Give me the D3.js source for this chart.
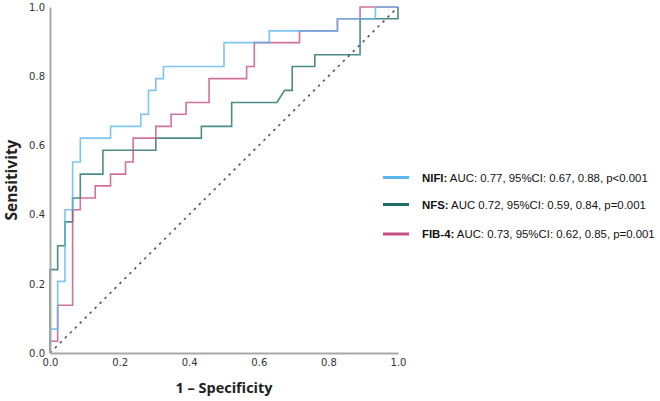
<!DOCTYPE html>
<html>
<head>
<meta charset="utf-8">
<script src="https://cdn.jsdelivr.net/npm/d3@7"></script>
<style>
  html, body { margin: 0; padding: 0; background: #fff; }
  svg { display: block; }
</style>
</head>
<body>
<svg id="chart" width="660" height="401"></svg>
<script>
// ---- Data ----
const seriesNames = ["NIFI", "NFS", "FIB-4"];
const legendRest = [
  " AUC: 0.77, 95%CI: 0.67, 0.88, p<0.001",
  " AUC 0.72, 95%CI: 0.59, 0.84, p=0.001",
  " AUC: 0.73, 95%CI: 0.62, 0.85, p=0.001"
];
const seriesColors = ["#5cb6ee", "#1f6f69", "#c54f82"];

// ROC vertices: [1 - specificity, sensitivity]
const nifiROC = [
  [0,0],[0,0.069],[0.022,0.069],[0.022,0.207],[0.043,0.207],[0.043,0.414],
  [0.065,0.414],[0.065,0.552],[0.087,0.552],[0.087,0.621],[0.174,0.621],
  [0.174,0.655],[0.261,0.655],[0.261,0.690],[0.283,0.690],[0.283,0.759],
  [0.304,0.759],[0.304,0.793],[0.326,0.793],[0.326,0.828],[0.5,0.828],
  [0.5,0.897],[0.630,0.897],[0.630,0.931],[0.826,0.931],[0.826,0.966],
  [0.935,0.966],[0.935,1],[1,1]
];
const nfsROC = [
  [0,0],[0,0.241],[0.022,0.241],[0.022,0.310],[0.043,0.310],[0.043,0.379],
  [0.065,0.379],[0.065,0.448],[0.087,0.448],[0.087,0.517],[0.152,0.517],
  [0.152,0.586],[0.304,0.586],[0.304,0.621],[0.435,0.621],[0.435,0.655],
  [0.522,0.655],[0.522,0.724],[0.652,0.724],[0.674,0.759],[0.696,0.759],
  [0.696,0.828],[0.761,0.828],[0.761,0.862],[0.891,0.862],[0.891,0.966],
  [1,0.966],[1,1]
];
const fib4ROC = [
  [0,0],[0,0.034],[0.022,0.034],[0.022,0.138],[0.065,0.138],[0.065,0.414],
  [0.087,0.414],[0.087,0.448],[0.130,0.448],[0.130,0.483],[0.174,0.483],
  [0.174,0.517],[0.217,0.517],[0.217,0.552],[0.239,0.552],[0.239,0.621],
  [0.304,0.621],[0.304,0.655],[0.348,0.655],[0.348,0.690],[0.391,0.690],
  [0.391,0.724],[0.457,0.724],[0.457,0.793],[0.565,0.793],[0.565,0.828],
  [0.587,0.828],[0.587,0.897],[0.717,0.897],[0.717,0.931],[0.826,0.931],
  [0.826,0.966],[0.891,0.966],[0.891,1],[1,1]
];
const referenceLine = [[0,0],[1,1]];
const tickValues = [0, 0.2, 0.4, 0.6, 0.8, 1.0];
const xTitle = "1 \u2013 Specificity";
const yTitle = "Sensitivity";

// ---- Drawing ----
const svg = d3.select("#chart");
const x = d3.scaleLinear().domain([0, 1]).range([50, 398]);
const y = d3.scaleLinear().domain([0, 1]).range([353, 7]);

const line = d3.line().x(d => x(d[0])).y(d => y(d[1]));

// diagonal reference
svg.append("path")
  .attr("d", line(referenceLine))
  .attr("fill", "none")
  .attr("stroke", "#555")
  .attr("stroke-width", 1.6)
  .attr("stroke-dasharray", "2.5,4.5");

const rocs = [nfsROC, fib4ROC, nifiROC];
const rocColors = [seriesColors[1], seriesColors[2], seriesColors[0]];
rocs.forEach((r, i) => {
  svg.append("path")
    .attr("d", line(r))
    .attr("fill", "none")
    .attr("stroke", rocColors[i])
    .attr("stroke-width", 1.6)
    .attr("stroke-opacity", 0.8);
});

// axes
const fmt = d3.format(".1f");
const xAxis = svg.append("g")
  .attr("transform", `translate(0,${y(0)})`)
  .call(d3.axisBottom(x).tickValues(tickValues).tickFormat(fmt).tickSize(0).tickPadding(6));
const yAxis = svg.append("g")
  .attr("transform", `translate(${x(0)},0)`)
  .call(d3.axisLeft(y).tickValues(tickValues).tickFormat(fmt).tickSize(0).tickPadding(5));
[xAxis, yAxis].forEach(g => {
  g.select(".domain").attr("stroke", "#a8a8a8").attr("stroke-width", 2);
  g.selectAll("text")
    .attr("fill", "#333")
    .style("font-family", "'DejaVu Sans', sans-serif")
    .style("font-size", "10px");
});

// axis titles
svg.append("text")
  .attr("x", (x(0) + x(1)) / 2)
  .attr("y", 393)
  .attr("text-anchor", "middle")
  .style("font-family", "'Open Sans', sans-serif")
  .style("font-weight", "bold")
  .style("font-size", "14.5px")
  .attr("fill", "#222")
  .text(xTitle);
svg.append("text")
  .attr("transform", `translate(17,${(y(0) + y(1)) / 2}) rotate(-90)`)
  .attr("text-anchor", "middle")
  .style("font-family", "'Open Sans', sans-serif")
  .style("font-weight", "bold")
  .style("font-size", "15.5px")
  .attr("fill", "#222")
  .text(yTitle);

// legend
const legendY = [177.5, 204.5, 234];
seriesNames.forEach((name, i) => {
  svg.append("line")
    .attr("x1", 383).attr("x2", 409)
    .attr("y1", legendY[i]).attr("y2", legendY[i])
    .attr("stroke", seriesColors[i])
    .attr("stroke-width", 3);
  const t = svg.append("text")
    .attr("x", 422)
    .attr("y", legendY[i] + 4)
    .style("font-family", "'Liberation Sans', Arial, sans-serif")
    .style("font-size", "11.4px")
    .attr("fill", "#111");
  t.append("tspan").style("font-weight", "bold").text(name + ":");
  t.append("tspan").text(legendRest[i]);
});
</script>
</body>
</html>
